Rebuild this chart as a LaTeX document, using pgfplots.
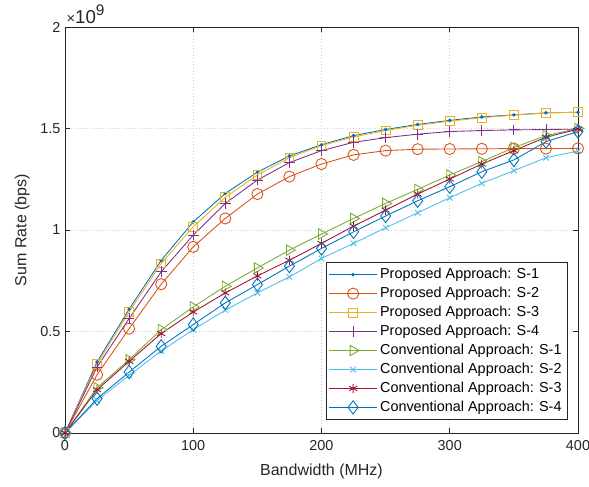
\documentclass[border=0pt]{standalone}
\usepackage{fontspec}
\setmainfont{Liberation Sans}
\usepackage{pgfplots}
\pgfplotsset{compat=1.18}

\definecolor{c1}{rgb}{0,0.447,0.741}
\definecolor{c2}{rgb}{0.85,0.325,0.098}
\definecolor{c3}{rgb}{0.929,0.694,0.125}
\definecolor{c4}{rgb}{0.494,0.184,0.556}
\definecolor{c5}{rgb}{0.466,0.674,0.188}
\definecolor{c6}{rgb}{0.301,0.745,0.933}
\definecolor{c7}{rgb}{0.635,0.078,0.184}
\definecolor{axgray}{rgb}{0.15,0.15,0.15}

\begin{document}
\begin{tikzpicture}
\begin{axis}[
    name=ax,
    scale only axis,
    width=384.75pt, height=304.5pt,
    xmin=0, xmax=400, ymin=0, ymax=2,
    xtick={0,100,200,300,400},
    ytick={0,0.5,1,1.5,2},
    yticklabels={0,0.5,1,1.5,2},
    tick align=inside, tick pos=both,
    major tick length=4pt,
    grid=major,
    major grid style={dotted, gray!40},
    axis line style={axgray, line width=0.5pt},
    every tick/.style={axgray, line width=0.5pt},
    tick label style={font=\fontsize{10.8}{12}\selectfont, text=axgray},
    xticklabel style={yshift=-2pt},
    /pgf/number format/assume math mode=true,
    xlabel={Bandwidth (MHz)},
    ylabel={Sum Rate (bps)},
    label style={font=\fontsize{12}{14}\selectfont, text=axgray},
    xlabel style={yshift=-3pt},
    ylabel style={yshift=1pt},
    legend cell align=left,
    legend style={at={(0.979,0.032)}, anchor=south east,
      font=\fontsize{10.8}{12}\selectfont, draw=axgray, line width=0.5pt,
      row sep=0.9pt, inner xsep=2pt, inner ysep=2.5pt},
    legend image code/.code={\draw[mark repeat=2,mark phase=2] plot coordinates {(0cm,0cm)(0.63cm,0cm)(1.26cm,0cm)};},
    every axis plot/.append style={line width=0.65pt},
]
\addplot[c1, mark=*, mark size=1pt] coordinates {
(0,0)(25,0.35)(50,0.61)(75,0.85)(100,1.04)(125,1.18)(150,1.285)(175,1.365)(200,1.42)
(225,1.465)(250,1.495)(275,1.52)(300,1.54)(325,1.557)(350,1.567)(375,1.577)(400,1.58)};
\addplot[c2, mark=o, mark size=4.2pt] coordinates {
(0,0)(25,0.287)(50,0.514)(75,0.733)(100,0.917)(125,1.057)(150,1.177)(175,1.263)(200,1.325)
(225,1.37)(250,1.391)(275,1.398)(300,1.399)(325,1.4)(350,1.401)(375,1.401)(400,1.402)};
\addplot[c3, mark=square, mark size=3.3pt] coordinates {
(0,0)(25,0.34)(50,0.596)(75,0.835)(100,1.016)(125,1.161)(150,1.271)(175,1.356)(200,1.416)
(225,1.458)(250,1.49)(275,1.516)(300,1.536)(325,1.553)(350,1.566)(375,1.577)(400,1.58)};
\addplot[c4, mark=+, mark size=4pt] coordinates {
(0,0)(25,0.325)(50,0.564)(75,0.794)(100,0.975)(125,1.131)(150,1.246)(175,1.332)(200,1.391)
(225,1.432)(250,1.455)(275,1.472)(300,1.485)(325,1.49)(350,1.493)(375,1.495)(400,1.497)};
\addplot[c5, mark=triangle, mark size=4.5pt, mark options={rotate=-90}] coordinates {
(0,0)(25,0.223)(50,0.361)(75,0.509)(100,0.621)(125,0.723)(150,0.813)(175,0.901)(200,0.98)
(225,1.057)(250,1.131)(275,1.2)(300,1.271)(325,1.337)(350,1.406)(375,1.465)(400,1.5)};
\addplot[c6, mark=x, mark size=3pt] coordinates {
(0,0)(25,0.16)(50,0.284)(75,0.404)(100,0.509)(125,0.605)(150,0.69)(175,0.769)(200,0.86)
(225,0.934)(250,1.011)(275,1.085)(300,1.159)(325,1.23)(350,1.292)(375,1.356)(400,1.389)};
\addplot[c7, mark=asterisk, mark size=3.5pt] coordinates {
(0,0)(25,0.213)(50,0.353)(75,0.49)(100,0.596)(125,0.69)(150,0.774)(175,0.851)(200,0.934)
(225,1.019)(250,1.098)(275,1.177)(300,1.251)(325,1.325)(350,1.391)(375,1.457)(400,1.497)};
\addplot[c1, mark=diamond, mark size=5pt] coordinates {
(0,0)(25,0.169)(50,0.3)(75,0.427)(100,0.534)(125,0.641)(150,0.731)(175,0.822)(200,0.909)
(225,0.991)(250,1.069)(275,1.144)(300,1.213)(325,1.287)(350,1.345)(375,1.435)(400,1.485)};
\legend{Proposed Approach: S-1,Proposed Approach: S-2,Proposed Approach: S-3,Proposed Approach: S-4,
Conventional Approach: S-1,Conventional Approach: S-2,Conventional Approach: S-3,Conventional Approach: S-4}
\end{axis}
\node[anchor=south west, inner sep=0pt, text=axgray, font=\fontsize{14}{16}\selectfont] at ([xshift=1pt,yshift=2.5pt]ax.north west) {{\fontsize{11}{12}\selectfont ×}10\raisebox{0.8ex}{\fontsize{11.5}{12}\selectfont 9}};
\pgfresetboundingbox
\path[use as bounding box] ([xshift=-48.75pt,yshift=-40.5pt]ax.south west) rectangle ([xshift=8.25pt,yshift=20.25pt]ax.north east);
\end{tikzpicture}
\end{document}
